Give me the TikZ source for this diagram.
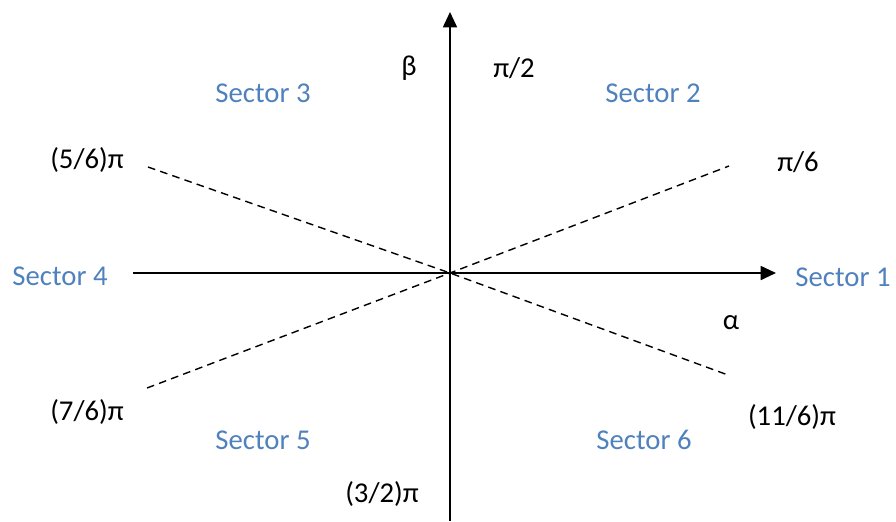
\documentclass[tikz,border=0pt]{standalone}
\usepackage{fontspec}
\setmainfont{Carlito}
\usepackage{tikz}
\usetikzlibrary{arrows.meta}
\usepackage{xcolor}
\definecolor{sectorblue}{RGB}{79,129,189}

\begin{document}
\begin{tikzpicture}[x=0.03cm,y=-0.03cm,
  every node/.style={font=\fontsize{24.5pt}{28pt}\selectfont,inner sep=0pt},
  axis/.style={line width=1.5pt,-{Triangle[length=0.46cm,width=0.42cm]}},
  bound/.style={line width=1.2pt,dash pattern=on 6.5pt off 4.5pt},
  sector/.style={text=sectorblue}]
  \useasboundingbox (0,0) rectangle (896,521);
  % axes (pixel grid, y pointing down)
  \coordinate (o) at (450,273);
  \coordinate (xs) at (133,273);
  \coordinate (xe) at (776,273);
  \coordinate (ys) at (450,521);
  \coordinate (ye) at (450,12);
  \draw[axis] (xs) -- (xe);
  \draw[axis] (ys) -- (ye);
  % sector boundaries
  \coordinate (b1) at (148,167);
  \coordinate (b2) at (728,375);
  \coordinate (b3) at (147,388);
  \coordinate (b4) at (729,166);
  \draw[bound] (b1) -- (o) -- (b2);
  \draw[bound] (b3) -- (o) -- (b4);
  % axis and angle labels
  \node (beta) at (409,68) {β};
  \node (alpha) at (731,323) {α};
  \node (a90) at (514,68) {π/2};
  \node (a30) at (798,162) {π/6};
  \node (a150) at (87,160) {(5/6)π};
  \node (a210) at (87,412) {(7/6)π};
  \node (a270) at (382,494) {(3/2)π};
  \node (a330) at (792,417) {(11/6)π};
  % sectors
  \foreach \n/\p in {1/{(843,277)},2/{(653,93)},3/{(263,93)},4/{(60,276)},5/{(263,440)},6/{(644,440)}}
    \node[sector] (s\n) at \p {Sector \n};
\end{tikzpicture}
\end{document}
